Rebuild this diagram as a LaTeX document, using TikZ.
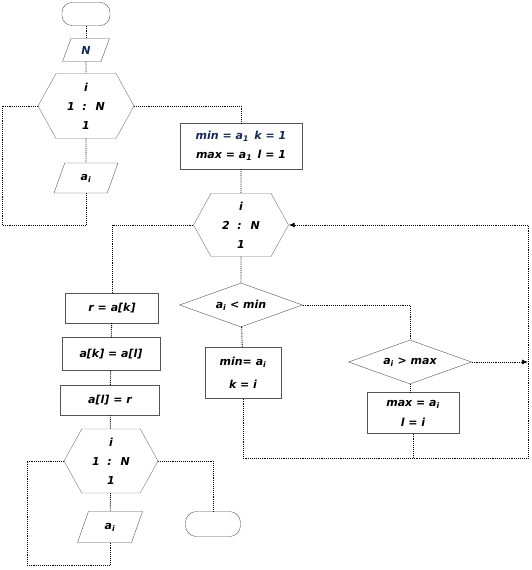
\documentclass[tikz,border=0pt]{standalone}
\usepackage{fontspec}
\setmainfont{DejaVu Sans}
\usetikzlibrary{arrows.meta, shapes.geometric, shapes.symbols}
\definecolor{flowNavy}{RGB}{25,42,80}
\definecolor{flowEdge}{RGB}{85,85,85}

\begin{document}
\begin{tikzpicture}[x=1pt, y=-1pt,
    every node/.style={font=\fontsize{11}{19}\selectfont\bfseries\itshape, inner sep=0pt, align=center},
    term/.style={draw=flowEdge, rounded corners=10pt, minimum width=48pt, minimum height=23pt},
    io/.style={trapezium, trapezium left angle=72, trapezium right angle=108, trapezium stretches=true, draw=flowEdge},
    loophex/.style={signal, signal to=west and east, signal pointer angle=122, draw=flowEdge!80, minimum width=95pt, minimum height=64pt},
    proc/.style={draw=flowEdge},
    cond/.style={diamond, aspect=2.8, draw=flowEdge, minimum width=123pt, minimum height=44pt},
    line/.style={densely dotted, line width=0.9pt},
    arrow/.style={line, -{Latex[length=6pt, width=5pt]}}
]
    \useasboundingbox (0,0) rectangle (532,570);

    % input loop
    \node[term] (start) at (86,14) {};
    \node[io, minimum width=47pt, minimum height=23pt, text=flowNavy] (readN) at (86,50) {N};
    \node[loophex, minimum width=96pt, minimum height=65pt] (hexA) at (86,106) {i\\1 \ : \ N\\1};
    \node[io, minimum width=64pt, minimum height=30pt] (readA) at (86,178) {a\textsubscript{i}};
    \coordinate (loopA) at (2,225);

    % min / max search
    \node[proc, minimum width=122pt, minimum height=46pt] (init) at (241,146)
        {\textcolor{flowNavy}{min = a\textsubscript{1}\enspace k = 1}\\max = a\textsubscript{1}\enspace l = 1};
    \node[loophex, minimum width=95pt, minimum height=63pt] (hexB) at (241,225) {i\\2 \ : \ N\\1};
    \node[cond] (cmpMin) at (241,305) {a\textsubscript{i} < min};
    \node[cond] (cmpMax) at (410,362) {a\textsubscript{i} > max};
    \node[proc, minimum width=76pt, minimum height=51pt, font=\fontsize{11}{23}\selectfont\bfseries\itshape] (setMin) at (243,373) {min= a\textsubscript{i}\\k = i};
    \node[proc, minimum width=92pt, minimum height=41pt, font=\fontsize{11}{20}\selectfont\bfseries\itshape] (setMax) at (413,413) {max = a\textsubscript{i}\\l = i};
    \coordinate (rightBot) at (528,458);

    % swap and output loop
    \node[proc, minimum width=93pt, minimum height=30pt] (swapR) at (112,308) {r = a[k]};
    \node[proc, minimum width=98pt, minimum height=33pt] (swapK) at (111,354) {a[k] = a[l]};
    \node[proc, minimum width=99pt, minimum height=30pt] (swapL) at (110,400) {a[l] = r};
    \node[loophex, minimum width=94pt, minimum height=64pt] (hexC) at (111,461) {i\\1 \ : \ N\\1};
    \node[io, minimum width=65pt, minimum height=31pt] (readB) at (110,527) {a\textsubscript{i}};
    \node[term, minimum width=55pt, minimum height=25pt, rounded corners=11pt] (stop) at (213,524) {};
    \coordinate (loopB) at (27,565);

    \draw[line] (start) -- (readN);
    \draw[line] (readN) -- (hexA);
    \draw[line] (hexA) -- (readA);
    \draw[line] (readA.south) |- (loopA) |- (hexA.west);
    \draw[line] (hexA.east) -| (init.north);
    \draw[line] (init) -- (hexB);
    \draw[line] (hexB.west) -| (swapR.north);
    \draw[line] (hexB) -- (cmpMin);
    \draw[line] (cmpMin.east) -| (cmpMax.north);
    \draw[line] (cmpMin) -- (setMin);
    \draw[line] (cmpMax.south) -- (cmpMax.south |- setMax.north);
    \draw[arrow] (setMin.south) |- (rightBot) |- (hexB.east);
    \draw[line] (setMax.south) -- (setMax.south |- rightBot);
    \draw[arrow] (cmpMax.east) -- (cmpMax.east -| rightBot);
    \draw[line] (swapR) -- (swapK);
    \draw[line] (swapK) -- (swapL);
    \draw[line] (swapL) -- (hexC);
    \draw[line] (hexC) -- (readB);
    \draw[line] (readB.south) |- (loopB) |- (hexC.west);
    \draw[line] (hexC.east) -| (stop.north);
\end{tikzpicture}
\end{document}
